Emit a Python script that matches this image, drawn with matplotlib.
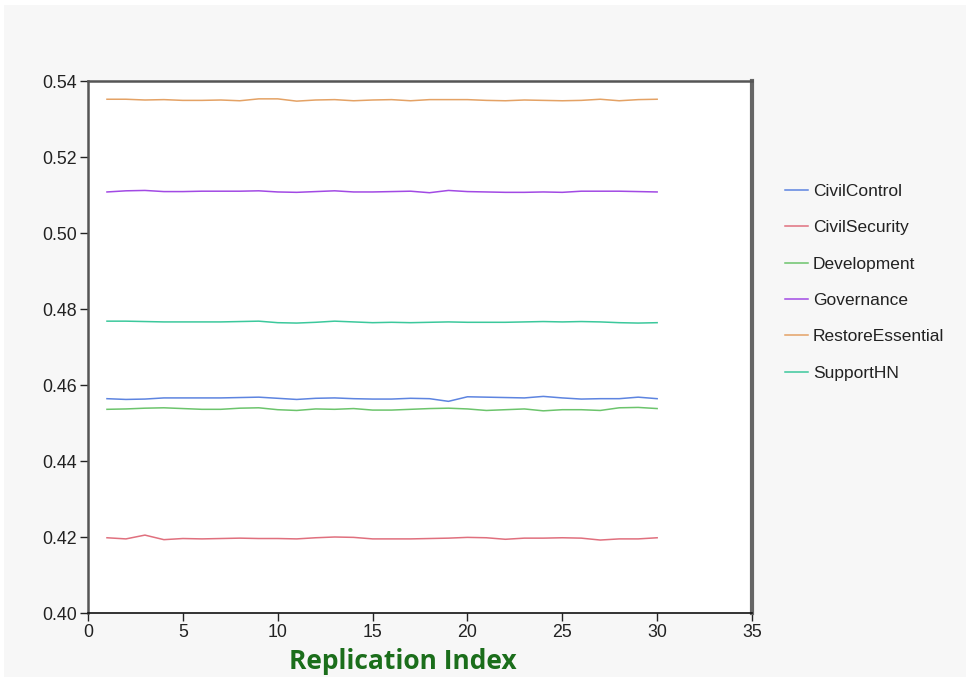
import matplotlib
matplotlib.use("Agg")
import matplotlib.pyplot as plt
from matplotlib.patches import Rectangle

# replication index and per-series values
replication = list(range(1, 31))

civil_control = [0.4564, 0.4562, 0.4563, 0.4566, 0.4566, 0.4566, 0.4566, 0.4567, 0.4568, 0.4565,
                 0.4562, 0.4565, 0.4566, 0.4564, 0.4563, 0.4563, 0.4565, 0.4564, 0.4557, 0.4569,
                 0.4568, 0.4567, 0.4566, 0.4570, 0.4566, 0.4563, 0.4564, 0.4564, 0.4568, 0.4564]
civil_security = [0.4198, 0.4195, 0.4205, 0.4193, 0.4196, 0.4195, 0.4196, 0.4197, 0.4196, 0.4196,
                  0.4195, 0.4198, 0.4200, 0.4199, 0.4195, 0.4195, 0.4195, 0.4196, 0.4197, 0.4199,
                  0.4198, 0.4194, 0.4197, 0.4197, 0.4198, 0.4197, 0.4192, 0.4195, 0.4195, 0.4198]
development = [0.4536, 0.4537, 0.4539, 0.4540, 0.4538, 0.4536, 0.4536, 0.4539, 0.4540, 0.4535,
               0.4533, 0.4537, 0.4536, 0.4538, 0.4534, 0.4534, 0.4536, 0.4538, 0.4539, 0.4537,
               0.4533, 0.4535, 0.4537, 0.4532, 0.4535, 0.4535, 0.4533, 0.4540, 0.4541, 0.4538]
governance = [0.5108, 0.5111, 0.5112, 0.5109, 0.5109, 0.5110, 0.5110, 0.5110, 0.5111, 0.5108,
              0.5107, 0.5109, 0.5111, 0.5108, 0.5108, 0.5109, 0.5110, 0.5106, 0.5112, 0.5109,
              0.5108, 0.5107, 0.5107, 0.5108, 0.5107, 0.5110, 0.5110, 0.5110, 0.5109, 0.5108]
restore_essential = [0.5352, 0.5352, 0.5350, 0.5351, 0.5349, 0.5349, 0.5350, 0.5348, 0.5353, 0.5353,
                     0.5347, 0.5350, 0.5351, 0.5348, 0.5350, 0.5351, 0.5348, 0.5351, 0.5351, 0.5351,
                     0.5349, 0.5348, 0.5350, 0.5349, 0.5348, 0.5349, 0.5352, 0.5348, 0.5351, 0.5352]
support_hn = [0.4768, 0.4768, 0.4767, 0.4766, 0.4766, 0.4766, 0.4766, 0.4767, 0.4768, 0.4764,
              0.4763, 0.4765, 0.4768, 0.4766, 0.4764, 0.4765, 0.4764, 0.4765, 0.4766, 0.4765,
              0.4765, 0.4765, 0.4766, 0.4767, 0.4766, 0.4767, 0.4766, 0.4764, 0.4763, 0.4764]

series_names = ["CivilControl", "CivilSecurity", "Development",
                "Governance", "RestoreEssential", "SupportHN"]
series_values = [civil_control, civil_security, development,
                 governance, restore_essential, support_hn]
series_colors = ["#5d84e0", "#e0707e", "#6cc46c", "#a24ae4", "#e4a265", "#3cc89c"]

x_ticks = [0, 5, 10, 15, 20, 25, 30, 35]
y_ticks = [0.40, 0.42, 0.44, 0.46, 0.48, 0.50, 0.52, 0.54]

plt.rcParams["font.family"] = ["Liberation Sans", "DejaVu Sans"]

W, H = 970, 677
fig = plt.figure(figsize=(W / 100, H / 100), dpi=100, facecolor="white")
# light gray panel behind everything
fig.patches.append(Rectangle((4 / W, 0), 962 / W, 672 / H, transform=fig.transFigure,
                             facecolor="#f7f7f7", edgecolor="none", zorder=-10))

ax = fig.add_axes([88 / W, 1 - 613 / H, (752 - 88) / W, (613 - 81) / H])
ax.set_facecolor("white")

for name, vals, col in zip(series_names, series_values, series_colors):
    ax.plot(replication, vals, color=col, linewidth=1.1, label=name)

ax.set_xlim(0, 35)
ax.set_ylim(0.40, 0.54)
ax.set_xticks(x_ticks)
ax.set_xticklabels([str(t) for t in x_ticks])
ax.set_yticks(y_ticks)
ax.set_yticklabels(["%.2f" % t for t in y_ticks])
ax.tick_params(axis="both", direction="out", length=6, width=1, color="#222222",
               labelsize=12.8, labelcolor="#222222", pad=2)

for side in ["left", "top"]:
    ax.spines[side].set_color("#555555")
    ax.spines[side].set_linewidth(1.8)
ax.spines["right"].set_color("#666666")
ax.spines["right"].set_linewidth(3)
ax.spines["bottom"].set_color("#111111")
ax.spines["bottom"].set_linewidth(1.2)

fig.legend(loc="upper left", bbox_to_anchor=(785 / W, 1 - 184 / H), frameon=False,
           fontsize=12.5, handlelength=1.3, handletextpad=0.3, labelspacing=1.22,
           borderpad=0, borderaxespad=0, labelcolor="#222222")

fig.text(403 / W, 2 / H, "Replication Index", ha="center", va="bottom",
         fontsize=19, fontweight="bold", color="#1b6e1b",
         family=["Open Sans", "DejaVu Sans"], stretch="condensed")

fig.savefig("out.png", dpi=100, facecolor=fig.get_facecolor())
